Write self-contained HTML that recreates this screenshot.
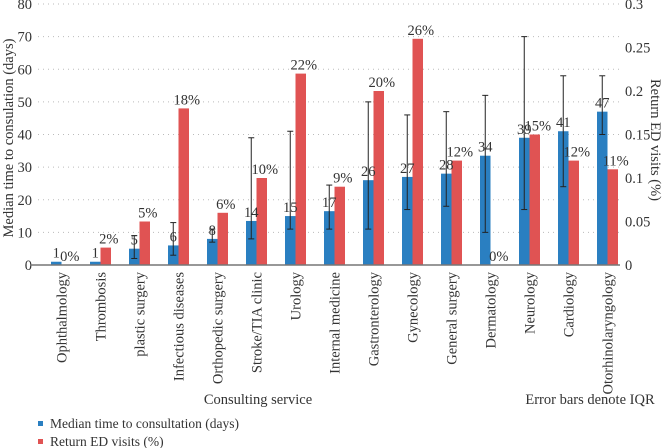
<!DOCTYPE html>
<html><head><meta charset="utf-8"><style>
body{margin:0;background:#fff;}
svg{display:block;font-family:"Liberation Serif",serif;}
svg text{font-family:"Liberation Serif",serif;}
</style></head><body>
<svg id="chart" width="666" height="448" font-family="Liberation Serif, serif"></svg>
<script>
const categories=["Ophthalmology","Thrombosis","plastic surgery","Infectious diseases","Orthopedic surgery","Stroke/TIA clinic","Urology","Internal medicine","Gastronterology","Gynecology","General surgery","Dermatology","Neurology","Cardiology","Otorhinolaryngology"];
const medianDays=[1,1,5,6,8,13.5,15,16.5,26,27,28,33.5,39,41,47];
const medianLabels=["1","1","5","6","8","14","15","17","26","27","28","34","39","41","47"];
const iqrLow=[1,1,2,3,7,8,11,11,11,17,18,10,17,24,40];
const iqrHigh=[1,1,9,13,11,39,41,24.5,50,46,47,52,70,58,58];
const returnED=[0,0.02,0.05,0.18,0.06,0.10,0.22,0.09,0.20,0.26,0.12,0,0.15,0.12,0.11];
const leftTicks=[0,10,20,30,40,50,60,70,80];
const rightTicks=[0,0.05,0.1,0.15,0.2,0.25,0.3];

const svg=document.getElementById('chart');
const NS='http://www.w3.org/2000/svg';
const FS=14.5;
const FF='Liberation Serif, serif';
function mk(tag,attrs,parent){const e=document.createElementNS(NS,tag);for(const k in attrs)e.setAttribute(k,attrs[k]);if(tag==='text')e.setAttribute('font-family',FF);(parent||svg).appendChild(e);return e;}
const y0=265,yTop=4;
const yL=v=>y0-(v/80)*(y0-yTop);
const yR=v=>y0-(v/0.3)*(y0-yTop);
const cx=i=>61.5+39*i;
const bw=10.5;

leftTicks.forEach(t=>{
  const y=yL(t);
  if(t>0){const g=mk('line',{x1:38,x2:620,y1:y,y2:y,stroke:'#bbb','stroke-dasharray':'1,4','stroke-width':1});
  }
  const tx=mk('text',{x:32,y:y+5,'text-anchor':'end','font-size':FS,fill:'#333'});tx.textContent=t;
  
});
rightTicks.forEach(t=>{
  const tx=mk('text',{x:625,y:yR(t)+5,'font-size':FS,fill:'#333'});tx.textContent=t;
  
});

categories.forEach((c,i)=>{
  const x=cx(i);
  const b=mk('rect',{x:x-bw,y:yL(medianDays[i]),width:bw,height:y0-yL(medianDays[i]),fill:'#2a7fc1'});
  
  const r=mk('rect',{x:x,y:yR(returnED[i]),width:bw,height:y0-yR(returnED[i]),fill:'#e05353'});
  
  if(iqrHigh[i]>iqrLow[i]){
    const ex=x-bw/2;
    const g=mk('g',{stroke:'#222','stroke-width':1});
    
    mk('line',{x1:ex,x2:ex,y1:yL(iqrLow[i]),y2:yL(iqrHigh[i])},g);
    mk('line',{x1:ex-3,x2:ex+3,y1:yL(iqrLow[i]),y2:yL(iqrLow[i])},g);
    mk('line',{x1:ex-3,x2:ex+3,y1:yL(iqrHigh[i]),y2:yL(iqrHigh[i])},g);
  }
  const ml=mk('text',{x:x-bw/2,y:yL(medianDays[i])-4,'text-anchor':'middle','font-size':FS,fill:'#333'});ml.textContent=medianLabels[i];
  
  const rl=mk('text',{x:x+bw/2+3,y:yR(returnED[i])-4,'text-anchor':'middle','font-size':FS,fill:'#333'});rl.textContent=Math.round(returnED[i]*100)+'%';
  
  const cl=mk('text',{transform:`translate(${x+5},272) rotate(-90)`,'text-anchor':'end','font-size':FS,fill:'#333'});cl.textContent=c;
  
});
const ax=mk('line',{x1:30,x2:620,y1:y0,y2:y0,stroke:'#777','stroke-width':1.5});

</script>
<script>
(function(){
const svg=document.getElementById('chart');const NS='http://www.w3.org/2000/svg';
function t(x,y,s,a,fs,extra){const e=document.createElementNS(NS,'text');e.setAttribute('x',x);e.setAttribute('y',y);e.setAttribute('font-family','Liberation Serif, serif');e.setAttribute('font-size',fs||14.5);e.setAttribute('fill','#333');if(a)e.setAttribute('text-anchor',a);if(extra)e.setAttribute('transform',extra);e.textContent=s;svg.appendChild(e);return e;}
let e;
e=t(0,0,'Median time to consulation (days)','middle',14.5,'translate(13,138) rotate(-90)');

e=t(0,0,'Return ED visits (%)','middle',14.5,'translate(651,140) rotate(90)');

e=t(258,404,'Consulting service','middle',14.5);

e=t(590,404,'Error bars denote IQR','middle',14.5);

const r1=document.createElementNS(NS,'rect');r1.setAttribute('x',38);r1.setAttribute('y',421);r1.setAttribute('width',5);r1.setAttribute('height',5);r1.setAttribute('fill','#2a7fc1');svg.appendChild(r1);

e=t(50,428,'Median time to consultation (days)',null,13.5);

const r2=document.createElementNS(NS,'rect');r2.setAttribute('x',38);r2.setAttribute('y',439);r2.setAttribute('width',5);r2.setAttribute('height',5);r2.setAttribute('fill','#e05353');svg.appendChild(r2);

e=t(50,446,'Return ED visits (%)',null,13.5);

})();
</script>
</body></html>
